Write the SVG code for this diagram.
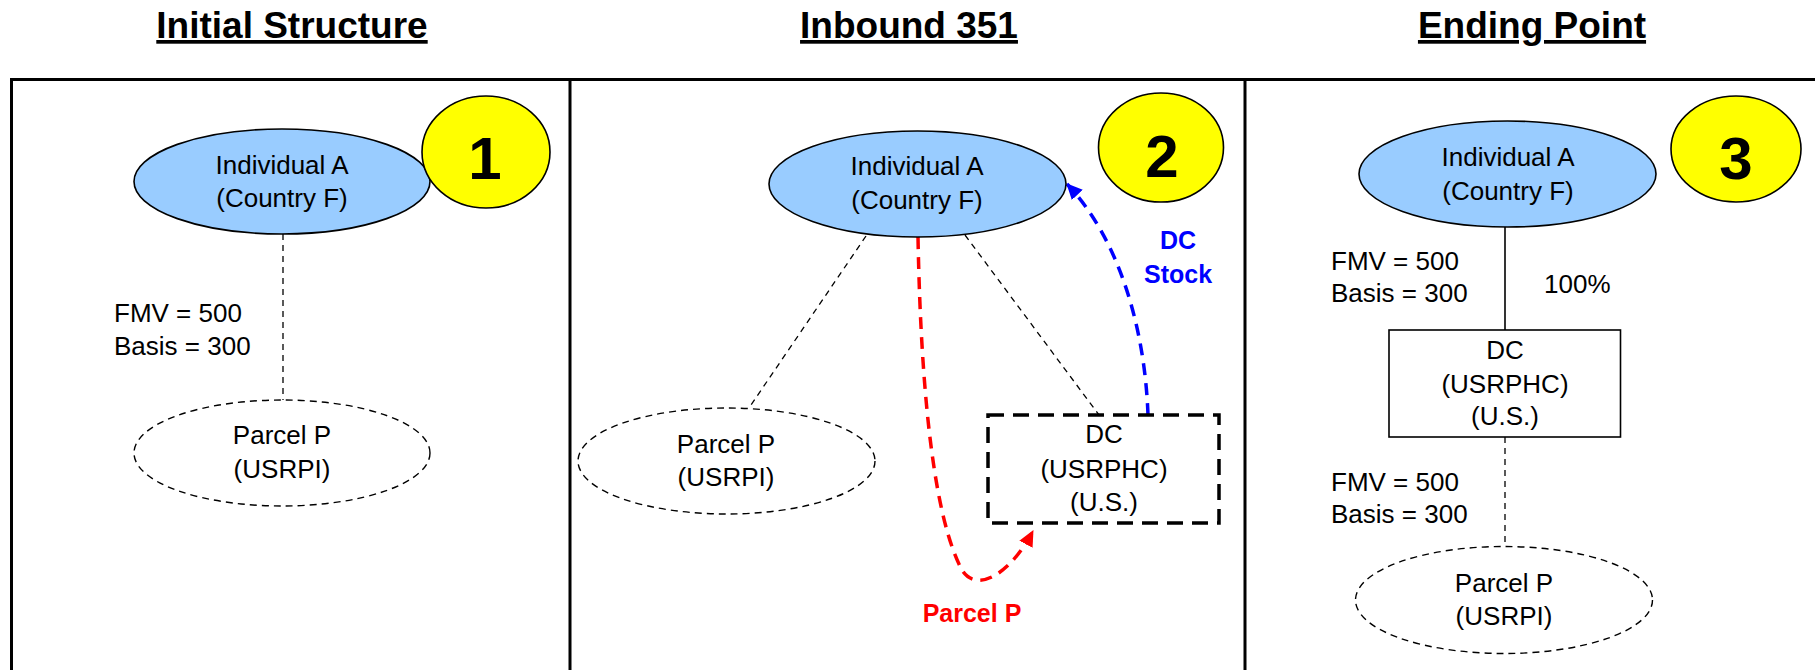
<svg xmlns="http://www.w3.org/2000/svg" width="1815" height="670" viewBox="0 0 1815 670">
<style>
text{font-family:"Liberation Sans",Arial,sans-serif;fill:#000}
.t{font-size:26px;text-anchor:middle}
.l{font-size:26px}
.title{font-size:37px;font-weight:bold;text-anchor:middle;text-decoration:underline}
.num{font-size:60px;font-weight:bold;text-anchor:middle}
.blue{fill:#99CCFF;stroke:#000;stroke-width:1.6}
.yel{fill:#FFFF00;stroke:#000;stroke-width:1.6}
.dash{fill:#fff;stroke:#000;stroke-width:1.4;stroke-dasharray:7,5}
.dl{fill:none;stroke:#000;stroke-width:1.3;stroke-dasharray:6,5}
.frame{fill:none;stroke:#000;stroke-width:3}
</style>
<defs>
<marker id="ar" markerWidth="16" markerHeight="15" refX="15" refY="7.5" orient="auto" markerUnits="userSpaceOnUse" viewBox="0 0 16 15"><path d="M0,0 L16,7.5 L0,15 z" fill="#FF0000"/></marker>
<marker id="ab" markerWidth="16" markerHeight="15" refX="15" refY="7.5" orient="auto" markerUnits="userSpaceOnUse" viewBox="0 0 16 15"><path d="M0,0 L16,7.5 L0,15 z" fill="#0000FF"/></marker>
</defs>
<rect width="1815" height="670" fill="#fff"/>
<g id="titles">
<text class="title" x="292" y="38">Initial Structure</text>
<text class="title" x="909" y="38">Inbound 351</text>
<text class="title" x="1532" y="38">Ending Point</text>
</g>
<g id="frame">
<rect class="frame" x="11.5" y="79.5" width="1830" height="620"/>
<line class="frame" x1="570" y1="79.5" x2="570" y2="680"/>
<line class="frame" x1="1245" y1="79.5" x2="1245" y2="680"/>
</g>
<g id="connectors">
<line class="dl" x1="283" y1="234" x2="283" y2="400"/>
<line class="dl" x1="866" y1="236" x2="751" y2="405"/>
<line class="dl" x1="965" y1="235" x2="1099" y2="415"/>
<line x1="1505" y1="227" x2="1505" y2="330" stroke="#000" stroke-width="1.6"/>
<line class="dl" x1="1505" y1="437" x2="1505" y2="546"/>
<path d="M918,237 C921,400 935,520 962,570 C975,592 1008,578 1033,531" fill="none" stroke="#FF0000" stroke-width="3.5" stroke-dasharray="12,8" marker-end="url(#ar)"/>
<path d="M1148,415 C1145,330 1120,240 1067,184" fill="none" stroke="#0000FF" stroke-width="3.5" stroke-dasharray="12,8" marker-end="url(#ab)"/>
</g>
<g id="p1-individual">
<ellipse class="blue" cx="282" cy="181.5" rx="148" ry="52.5"/>
<text class="t" x="282" y="174">Individual A</text>
<text class="t" x="282" y="207">(Country F)</text>
</g>
<g id="p1-badge">
<ellipse class="yel" cx="486" cy="152" rx="64" ry="56"/>
<text class="num" x="485" y="179">1</text>
</g>
<g id="p1-values">
<text class="l" x="114" y="322">FMV = 500</text>
<text class="l" x="114" y="355">Basis = 300</text>
</g>
<g id="p1-parcel">
<ellipse class="dash" cx="282" cy="453" rx="148" ry="53"/>
<text class="t" x="282" y="444">Parcel P</text>
<text class="t" x="282" y="478">(USRPI)</text>
</g>
<g id="p2-individual">
<ellipse class="blue" cx="917.5" cy="184" rx="148.5" ry="53"/>
<text class="t" x="917" y="175">Individual A</text>
<text class="t" x="917" y="209">(Country F)</text>
</g>
<g id="p2-badge">
<ellipse class="yel" cx="1161" cy="147.5" rx="62.5" ry="54.5"/>
<text class="num" x="1162" y="177">2</text>
</g>
<g id="p2-parcel">
<ellipse class="dash" cx="726.5" cy="461" rx="148.5" ry="53"/>
<text class="t" x="726" y="453">Parcel P</text>
<text class="t" x="726" y="486">(USRPI)</text>
</g>
<g id="p2-dc">
<rect x="988" y="415" width="231" height="108" fill="#fff" stroke="#000" stroke-width="3.5" stroke-dasharray="16,9"/>
<text class="t" x="1104" y="443">DC</text>
<text class="t" x="1104" y="478">(USRPHC)</text>
<text class="t" x="1104" y="511">(U.S.)</text>
</g>
<g id="p2-labels">
<text x="1178" y="249" font-size="25" font-weight="bold" text-anchor="middle" style="fill:#0000FF">DC</text>
<text x="1178" y="283" font-size="25" font-weight="bold" text-anchor="middle" style="fill:#0000FF">Stock</text>
<text x="972" y="622" font-size="25" font-weight="bold" text-anchor="middle" style="fill:#FF0000">Parcel P</text>
</g>
<g id="p3-individual">
<ellipse class="blue" cx="1507.5" cy="174" rx="148.5" ry="53"/>
<text class="t" x="1508" y="166">Individual A</text>
<text class="t" x="1508" y="200">(Country F)</text>
</g>
<g id="p3-badge">
<ellipse class="yel" cx="1736" cy="149" rx="65" ry="53"/>
<text class="num" x="1736" y="179">3</text>
</g>
<g id="p3-values">
<text class="l" x="1331" y="270">FMV = 500</text>
<text class="l" x="1331" y="302">Basis = 300</text>
<text class="l" x="1544" y="293">100%</text>
<text class="l" x="1331" y="491">FMV = 500</text>
<text class="l" x="1331" y="523">Basis = 300</text>
</g>
<g id="p3-dc">
<rect x="1389" y="330" width="231.5" height="107" fill="#fff" stroke="#000" stroke-width="1.6"/>
<text class="t" x="1505" y="359">DC</text>
<text class="t" x="1505" y="393">(USRPHC)</text>
<text class="t" x="1505" y="425">(U.S.)</text>
</g>
<g id="p3-parcel">
<ellipse class="dash" cx="1504" cy="600" rx="148.5" ry="53.5"/>
<text class="t" x="1504" y="592">Parcel P</text>
<text class="t" x="1504" y="625">(USRPI)</text>
</g>
</svg>
